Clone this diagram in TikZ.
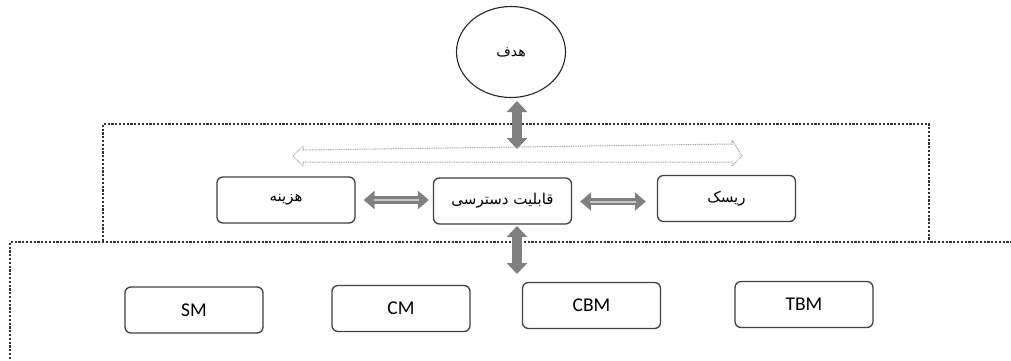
\documentclass[tikz,border=0pt]{standalone}
\usepackage{fontspec}
\setmainfont{Carlito}
\newfontfamily\arabicfont[Script=Arabic]{DejaVu Sans}
\TeXXeTstate=1
\usetikzlibrary{shapes.geometric,arrows.meta}
\definecolor{boxline}{HTML}{404040}
\definecolor{arrgray}{HTML}{808080}
\definecolor{arrlight}{HTML}{C8C8C8}
\definecolor{hollowgray}{HTML}{A8A8A8}
\tikzset{
  rbox/.style={draw=boxline, line width=1.3pt, rounded corners=6pt,
    minimum width=138pt, minimum height=46pt, inner sep=0pt,
    font=\fontsize{19.5}{22}\selectfont},
  abox/.style={rbox, font=\arabicfont\fontsize{15}{18}\selectfont},
  goalnode/.style={draw=black!85, line width=1.1pt, ellipse,
    minimum width=109pt, minimum height=91pt, inner sep=0pt,
    font=\arabicfont\fontsize{14}{18}\selectfont},
  dotframe/.style={draw=black!80, line width=1.1pt, dash pattern=on 2.2pt off 1.6pt},
  fatarrow/.style={draw=arrgray, line width=10pt,
    {Triangle[width=20pt,length=11pt]}-{Triangle[width=20pt,length=11pt]}},
  fatharrow/.style={draw=arrgray, line width=7.5pt,
    {Triangle[width=18pt,length=11pt]}-{Triangle[width=18pt,length=11pt]}},
  innerline/.style={draw=arrlight, line width=2pt},
  hollowarrow/.style={draw=hollowgray, line width=1pt, dash pattern=on 1pt off 0.8pt},
}
\begin{document}
\begin{tikzpicture}[x=1pt,y=-1pt]
\useasboundingbox (0,0) rectangle (1011,360);
\fill[white] (0,0) rectangle (1011,360);

% frames
\begin{scope}
\clip (0,0) rectangle (1011,360);
\draw[dotframe] (103,241) -- (103,124) -- (929,124) -- (929,241);
\draw[dotframe] (1020,242) -- (10,242) -- (10,370);
\end{scope}

% nodes
\node[goalnode] (goal) at (511,52) {\beginR هدف\endR};
\node[abox] (cost) at (286,200) {\beginR هزینه\endR};
\node[abox] (avail) at (502.5,201) {\beginR قابلیت دسترسی\endR};
\node[abox] (risk) at (726.5,198.5) {\beginR ریسک\endR};
\node[rbox] (sm) at (194,310) {SM};
\node[rbox] (cm) at (401,308.5) {CM};
\node[rbox] (cbm) at (591.5,305.5) {CBM};
\node[rbox] (tbm) at (804,304.5) {TBM};

% arrow ends
\coordinate (g1) at (517,101);
\coordinate (g2) at (517,149);
\coordinate (b1) at (517,226);
\coordinate (b2) at (517,274);
\coordinate (c1) at ([xshift=8pt]cost.east |- 0,200);
\coordinate (c2) at ([xshift=-4pt]avail.west |- 0,200);
\coordinate (r1) at ([xshift=8pt]avail.east |- 0,201.5);
\coordinate (r2) at ([xshift=-11pt]risk.west |- 0,201.5);

\draw[fatarrow] (g1) -- (g2);
\draw[fatarrow] (b1) -- (b2);
\draw[fatharrow] (c1) -- (c2);
\draw[innerline, shorten <=10pt, shorten >=10pt] (c1) -- (c2);
\draw[fatharrow] (r1) -- (r2);
\draw[innerline, shorten <=10pt, shorten >=10pt] (r1) -- (r2);

% hollow dotted double arrow
\coordinate (hl) at (293,156);
\coordinate (hr) at (742,156);
\draw[hollowarrow] (hl) -- ++(10,-10) -- ++(0,4) -- ([xshift=-10pt,yshift=6pt]hr |- 0,150) -- ++(0,-4) -- (hr)
  -- ++(-10,10) -- ++(0,-4) -- ([xshift=10pt]hl |- 0,162) -- ++(0,4) -- cycle;
\end{tikzpicture}
\end{document}
